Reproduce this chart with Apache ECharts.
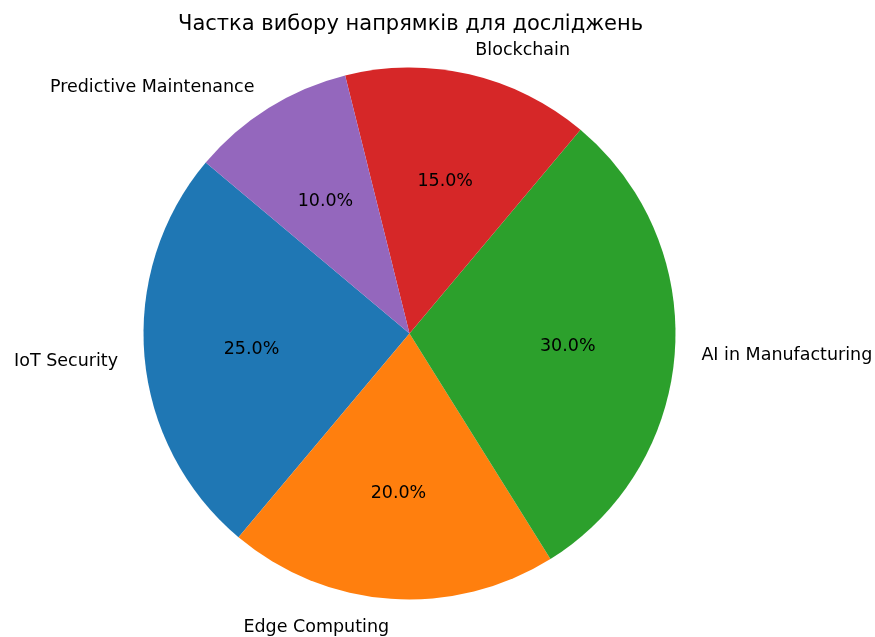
<!DOCTYPE html>
<html>
<head>
<meta charset="utf-8">
<script src="https://cdn.jsdelivr.net/npm/echarts@6/dist/echarts.min.js"></script>
<style>
  html, body { margin: 0; padding: 0; background: #fff; }
  #chart { width: 875px; height: 637px; }
</style>
</head>
<body>
<div id="chart"></div>
<script>
// Research directions and their share of choices
const categories = ['IoT Security', 'Edge Computing', 'AI in Manufacturing', 'Blockchain', 'Predictive Maintenance'];
const shares = [25, 20, 30, 15, 10];
const colors = ['#1f77b4', '#ff7f0e', '#2ca02c', '#d62728', '#9467bd'];

const FONT = 'DejaVu Sans';
const CX = 409.5, CY = 333.5, R = 266;
// text sits a touch low relative to its anchor, so the label rings are nudged down
const TEXT_NUDGE = 2;

const data = categories.map((name, i) => ({ name, value: shares[i], itemStyle: { color: colors[i] } }));
const labelData = categories.map((name, i) => ({ name, value: shares[i] }));

const common = {
  type: 'pie',
  startAngle: 140,
  clockwise: false,
  avoidLabelOverlap: false,
  silent: true
};

const chart = echarts.init(document.getElementById('chart'), null, { renderer: 'canvas' });
chart.setOption({
  backgroundColor: '#ffffff',
  animation: false,
  title: {
    text: 'Частка вибору напрямків для досліджень',
    left: 173,
    top: 9,
    textStyle: { fontFamily: FONT, fontSize: 21, fontWeight: 'normal', color: '#000' }
  },
  series: [
    Object.assign({}, common, {
      // coloured wedges
      center: [CX, CY],
      radius: [0, R],
      data: data,
      label: { show: false },
      labelLine: { show: false }
    }),
    Object.assign({}, common, {
      // category names just outside the rim
      center: [CX, CY + TEXT_NUDGE],
      radius: [0, R],
      data: labelData,
      itemStyle: { color: 'rgba(0,0,0,0)' },
      label: {
        show: true,
        position: 'outside',
        formatter: '{b}',
        fontFamily: FONT,
        fontSize: 17.5,
        color: '#000',
        distanceToLabelLine: 0
      },
      labelLine: { show: false, length: R * 0.1, length2: 0 }
    }),
    Object.assign({}, common, {
      // percentages at about 0.6 of the radius
      center: [CX, CY + TEXT_NUDGE],
      radius: [0, R * 1.17],
      data: labelData,
      itemStyle: { color: 'rgba(0,0,0,0)' },
      label: {
        show: true,
        position: 'inside',
        formatter: p => p.value.toFixed(1) + '%',
        fontFamily: FONT,
        fontSize: 17.5,
        color: '#000'
      },
      labelLine: { show: false }
    })
  ]
});
</script>
</body>
</html>
